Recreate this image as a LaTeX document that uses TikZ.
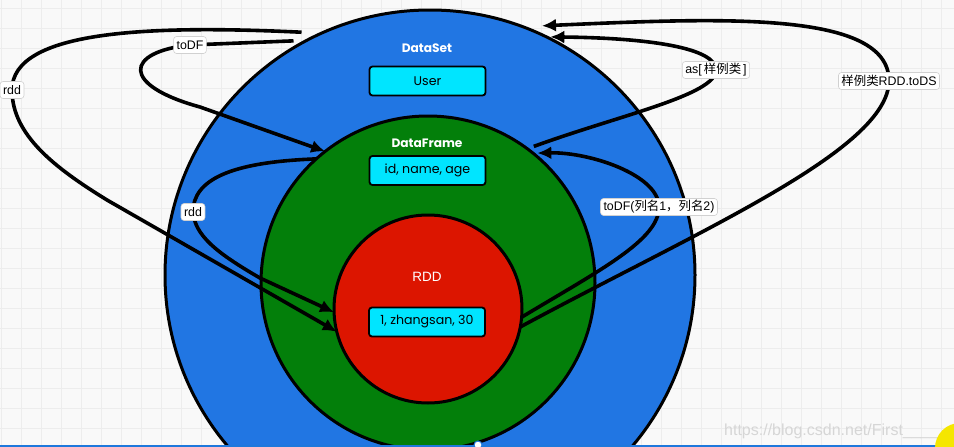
\documentclass[tikz,border=0pt]{standalone}
\usepackage{fontspec}
\setmainfont{Liberation Sans}
\newfontfamily\cjk{Noto Sans CJK SC}
\newfontfamily\hand{Poppins}
\usetikzlibrary{arrows.meta}
\definecolor{bg}{HTML}{F9F9F9}
\definecolor{gridc}{HTML}{EDEDED}
\definecolor{dsblue}{HTML}{2176E3}
\definecolor{dfgreen}{HTML}{037F0A}
\definecolor{rddred}{HTML}{DC1500}
\definecolor{cellcyan}{HTML}{00E5FF}
\definecolor{barblue}{HTML}{1E78DC}
\definecolor{yellowc}{HTML}{F5E600}
\begin{document}
\begin{tikzpicture}[x=1pt,y=-1pt,
  ring/.style={circle,draw=black,line width=3pt,inner sep=0pt,outer sep=0pt},
  cell/.style={draw=black,fill=cellcyan,line width=1.8pt,rounded corners=3pt,
    minimum width=116pt,minimum height=29pt,inner sep=0pt,
    font=\hand\fontsize{12.6}{14}\selectfont},
  title/.style={text=white,inner sep=0pt,font=\hand\bfseries\fontsize{12.2}{14}\selectfont},
  conn/.style={line width=3.6pt,-{Latex[length=14pt,width=13pt]}},
  lbl/.style={fill=white,draw=black!18,line width=0.6pt,rounded corners=3pt,
    inner xsep=3pt,inner ysep=0pt,minimum height=17pt,
    font=\fontsize{12.4}{14}\selectfont},
]
\useasboundingbox (0,0) rectangle (954,447);
\clip (0,0) rectangle (954,447);
\fill[bg] (0,0) rectangle (954,447);
\foreach \x in {1.7,21.7,...,954} \draw[gridc,line width=1pt] (\x,0) -- (\x,447);
\foreach \y in {8.3,28.3,...,447} \draw[gridc,line width=1pt] (0,\y) -- (954,\y);
\node[anchor=base west,text=black!16,font=\fontsize{16}{18}\selectfont,inner sep=0pt]
  (wm) at (724,435) {https://blog.csdn.net/First\_\_\_\_\_};

% rings
\node[ring,fill=dsblue,minimum size=530pt] (ds) at (430,275) {};
\node[ring,fill=dfgreen,minimum size=334pt] (df) at (428,283) {};
\node[ring,fill=rddred,minimum size=188pt] (rdd) at (428,309) {};

% titles and cells
\node[title] (dst) at (427,48) {DataSet};
\node[cell] (user) at (427.5,81) {User};
\node[title] (dft) at (427,143) {DataFrame};
\node[cell] (cols) at (427.5,170.5) {id, name, age};
\node[text=white,inner sep=0pt,font=\fontsize{13.5}{15}\selectfont] (rddt) at (427,277) {RDD};
\node[cell] (row) at (427,322) {1, zhangsan, 30};

% connectors
\draw[conn] ([yshift=11pt]ds.119) .. controls (150,25) and (12,30) .. (12,90)
  node[lbl] (l1) {rdd}
  .. controls (12,135) and (55,168) .. (107,200) -- (rdd.194);
\draw[conn] ([yshift=7pt]ds.121) -- (190,45) node[lbl] (l2) {toDF}
  .. controls (125,52) and (120,85) .. (200,107) -- (df.128);
\draw[conn] (df.132) .. controls (230,162) and (193,180) .. (193,212)
  node[lbl] (l3) {rdd}
  .. controls (195,235) and (215,252) .. (260,278) -- (rdd.182);
\draw[conn] ([shift={(3pt,5pt)}]df.52) .. controls (620,115) and (716,95) .. (716,70)
  node[lbl] (l4) {as[\,{\cjk 样例类}\,]}
  .. controls (716,48) and (650,38) .. ([yshift=2pt]ds.63);
\draw[conn] (rdd.355) .. controls (600,270) and (659,240) .. (659,207)
  node[lbl] (l5) {toDF({\cjk 列名}1{\cjk ，列名}2)}
  .. controls (659,175) and (590,152) .. ([shift={(2pt,2pt)}]df.50);
\draw[conn] (rdd.349) .. controls (700,230) and (888,150) .. (889,81)
  node[lbl] (l6) {{\cjk 样例类}RDD.toDS}
  .. controls (889,10) and (720,18) .. ([yshift=9pt]ds.65);

% screen artifacts
\fill[barblue] (0,444.5) rectangle (954,447);
\draw[barblue,fill=white,line width=1pt] (478,445) circle[radius=4pt];
\fill[yellowc] (960,448) circle[radius=25pt];
\end{tikzpicture}
\end{document}
